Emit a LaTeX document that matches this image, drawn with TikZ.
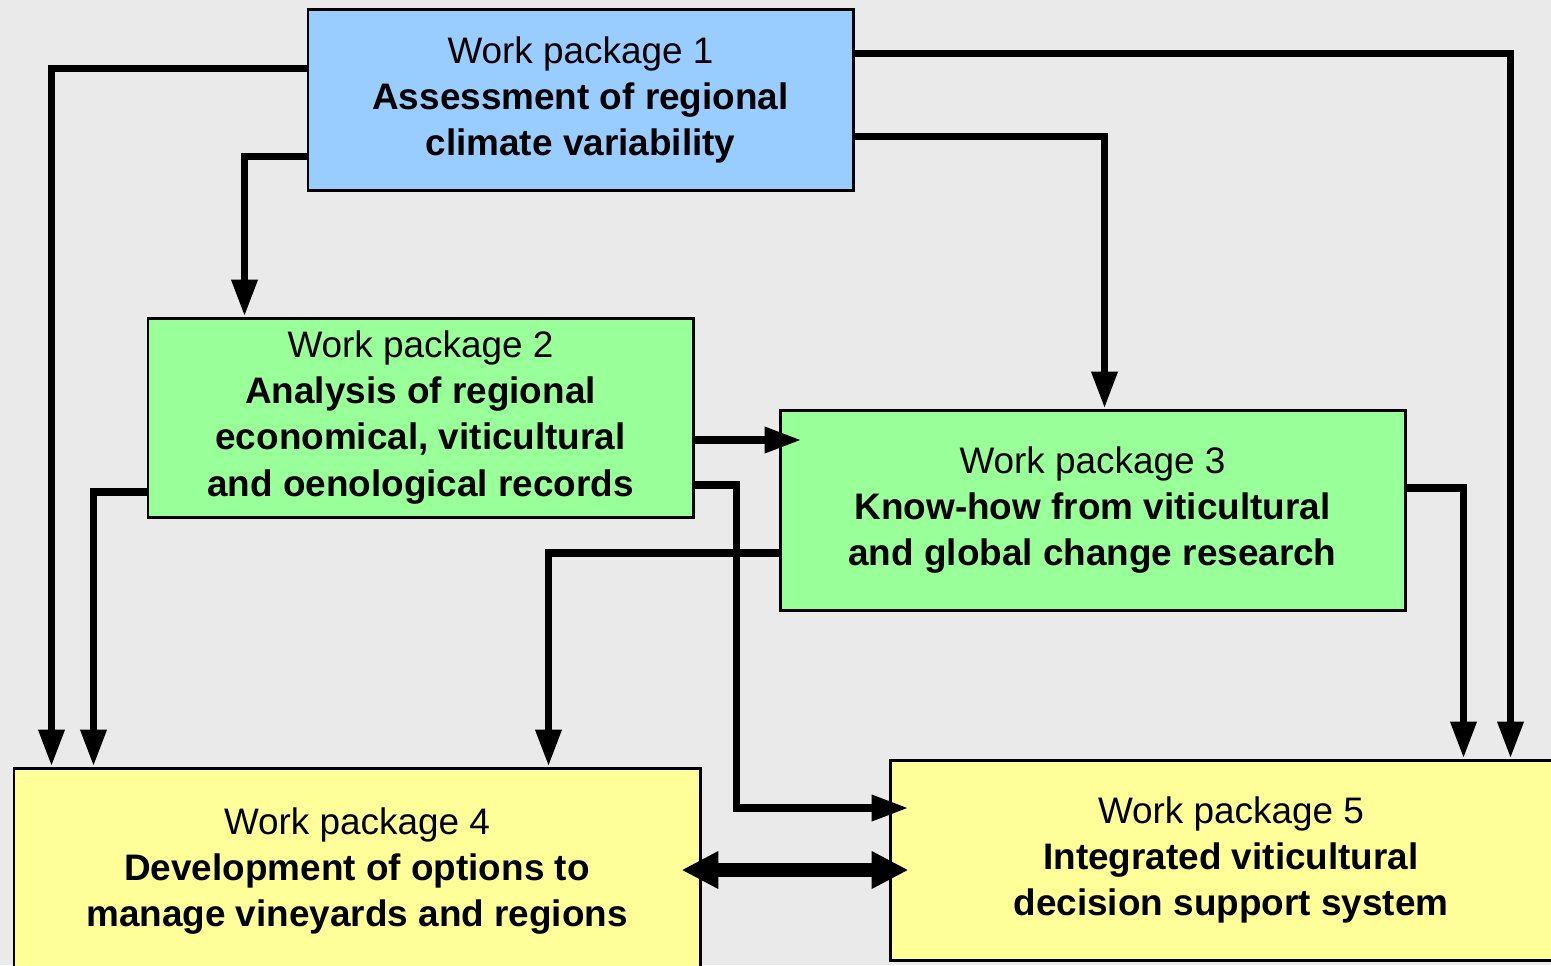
\documentclass[tikz,border=0pt]{standalone}
\usepackage{fontspec}
\setmainfont{Liberation Sans}
\usetikzlibrary{arrows.meta}
\definecolor{wpblue}{HTML}{99CCFF}
\definecolor{wpgreen}{HTML}{99FF99}
\definecolor{wpyellow}{HTML}{FFFF99}
\definecolor{bggray}{HTML}{EAEAEA}

\begin{document}
\begin{tikzpicture}[
  package/.style={draw, line width=1.7pt, rectangle, align=center, inner sep=0pt, font=\fontsize{21}{26.2}\selectfont},
  climate/.style={package, fill=wpblue, minimum width=10.9cm, minimum height=3.62cm},
  records/.style={package, fill=wpgreen, minimum width=10.9cm, minimum height=3.98cm},
  research/.style={package, fill=wpgreen, minimum width=12.5cm, minimum height=4cm},
  options/.style={package, fill=wpyellow, minimum width=13.72cm, minimum height=4.12cm},
  support/.style={package, fill=wpyellow, minimum width=13.64cm, minimum height=4cm},
  arrow/.style={-{Triangle[width=14pt, length=21pt]}, line width=4.4pt, color=black},
  twoway/.style={{Triangle[width=20pt, length=21pt]}-{Triangle[width=20pt, length=21pt]}, line width=8pt, color=black}
]
    \fill[bggray] (0, 0) rectangle (31.02, -19.3);
    \useasboundingbox (0, 0) rectangle (31.02, -19.3);

    % Work package 1
    \node (wp1) at (11.61, -2.0) [climate] {Work package 1\\ \textbf{Assessment of regional}\\ \textbf{climate variability}};

    % Work package 2
    \node (wp2) at (8.41, -8.35) [records] {Work package 2\\ \textbf{Analysis of regional}\\ \textbf{economical, viticultural}\\ \textbf{and oenological records}};

    % Work package 3
    \node (wp3) at (21.85, -10.2) [research] {Work package 3\\ \textbf{Know-how from viticultural}\\ \textbf{and global change research}};

    % Work package 4
    \node (wp4) at (7.14, -17.42) [options] {Work package 4\\ \textbf{Development of options to}\\ \textbf{manage vineyards and regions}};

    % Work package 5
    \node (wp5) at (24.62, -17.2) [support] {Work package 5\\ \textbf{Integrated viticultural}\\ \textbf{decision support system}};

    % Arrows
    \draw[arrow] ([yshift=0.63cm]wp1.west) -| ([xshift=0.78cm]wp4.north west);
    \draw[arrow] ([yshift=-1.13cm]wp1.west) -| ([xshift=1.96cm]wp2.north west);
    \draw[arrow] ([yshift=0.93cm]wp1.east) -| ([xshift=12.44cm]wp5.north west);
    \draw[arrow] ([yshift=-0.73cm]wp1.east) -| ([xshift=6.52cm]wp3.north west);
    \draw[arrow] ([yshift=-0.45cm]wp2.east) -- ([xshift=0.46cm, yshift=1.4cm]wp3.west);
    \draw[arrow] ([yshift=-1.49cm]wp2.west) -| ([xshift=1.62cm]wp4.north west);
    \draw[arrow] ([yshift=-1.35cm]wp2.east) -- ++(0.84, 0) |- ([xshift=0.4cm, yshift=1.04cm]wp5.west);
    \draw[arrow] ([yshift=-0.86cm]wp3.west) -| ([xshift=10.72cm]wp4.north west);
    \draw[arrow] ([yshift=0.44cm]wp3.east) -| ([xshift=11.5cm]wp5.north west);
    \draw[twoway] ([xshift=-0.4cm, yshift=0.02cm]wp4.east) -- ([xshift=0.4cm, yshift=-0.2cm]wp5.west);
\end{tikzpicture}
\end{document}
